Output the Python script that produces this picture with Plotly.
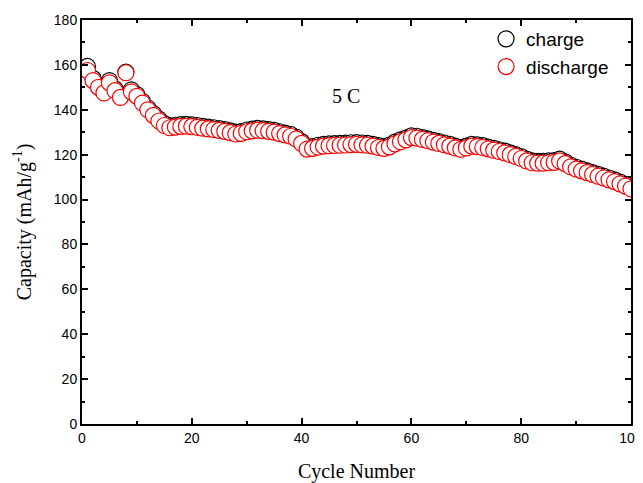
import plotly.graph_objects as go

cycles = list(range(1, 101))

discharge = [157.5, 153.0, 150.0, 147.5, 152.0, 148.5, 145.5, 156.5, 148.0, 146.0,
             143.0, 140.0, 137.5, 135.0, 133.0, 132.0, 132.3, 132.6, 132.7, 132.5,
             132.2, 131.8, 131.5, 131.2, 130.8, 130.4, 129.8, 129.2, 129.5, 130.2,
             130.6, 130.9, 130.7, 130.4, 130.0, 129.4, 128.8, 128.2, 127.0, 125.0,
             122.5, 122.8, 123.4, 123.8, 124.0, 124.1, 124.2, 124.3, 124.5, 124.6,
             124.4, 124.2, 123.8, 123.2, 122.8, 123.5, 124.8, 125.8, 126.6, 127.6,
             127.4, 126.8, 126.2, 125.6, 125.0, 124.4, 123.8, 123.0, 122.4, 123.0,
             123.8, 123.6, 123.2, 122.6, 122.0, 121.4, 120.8, 120.0, 119.2, 118.3,
             117.2, 116.4, 116.2, 116.2, 116.4, 116.6, 117.2, 116.0, 114.6, 113.6,
             112.8, 112.0, 111.2, 110.4, 109.6, 108.8, 108.0, 107.0, 106.0, 104.8]

charge = [159.3, 154.0, 150.8, 148.3, 153.0, 149.3, 146.3, 156.8, 148.9, 146.8,
          143.8, 140.8, 138.3, 135.8, 133.8, 132.8, 133.1, 133.4, 133.5, 133.3,
          133.0, 132.6, 132.3, 132.0, 131.6, 131.2, 130.6, 130.0, 130.3, 131.0,
          131.4, 131.7, 131.5, 131.2, 130.8, 130.2, 129.6, 129.0, 127.8, 125.8,
          123.3, 123.6, 124.2, 124.6, 124.8, 124.9, 125.0, 125.1, 125.3, 125.4,
          125.2, 125.0, 124.6, 124.0, 123.6, 124.3, 125.6, 126.6, 127.4, 128.4,
          128.2, 127.6, 127.0, 126.4, 125.8, 125.2, 124.6, 123.8, 123.2, 123.8,
          124.6, 124.4, 124.0, 123.4, 122.8, 122.2, 121.6, 120.8, 120.0, 119.1,
          118.0, 117.2, 117.0, 117.0, 117.2, 117.4, 118.0, 116.8, 115.4, 114.4,
          113.6, 112.8, 112.0, 111.2, 110.4, 109.6, 108.8, 107.8, 106.8, 105.6]

x_ticks = [0, 20, 40, 60, 80, 100]
y_ticks = [0, 20, 40, 60, 80, 100, 120, 140, 160, 180]

fig = go.Figure()
fig.add_trace(go.Scatter(
    x=cycles, y=charge, mode="markers", name="charge",
    marker=dict(symbol="circle-open", size=16, color="black", line=dict(width=1.2, color="black")),
))
fig.add_trace(go.Scatter(
    x=cycles, y=discharge, mode="markers", name="discharge",
    marker=dict(symbol="circle", size=16, color="white", line=dict(width=1.2, color="#ff0000")),
))

fig.add_annotation(x=48, y=146, text="5 C", showarrow=False,
                   font=dict(family="Liberation Serif", size=20, color="black"))

axis_common = dict(
    showline=True, linewidth=2, linecolor="black", mirror="allticks",
    ticks="inside", ticklen=6, tickwidth=1.5, tickcolor="black",
    showgrid=False, zeroline=False, automargin=False,
    tickfont=dict(family="Liberation Sans", size=14, color="black"),
)

fig.update_xaxes(
    range=[0, 100], tickvals=x_ticks,
    minor=dict(dtick=10, ticks="inside", ticklen=3, tickwidth=1.5, tickcolor="black"),
    title=dict(text="Cycle Number", font=dict(family="Liberation Serif", size=20, color="black"), standoff=19),
    **axis_common,
)
fig.update_yaxes(
    range=[0, 180], tickvals=y_ticks,
    minor=dict(dtick=10, ticks="inside", ticklen=3, tickwidth=1.5, tickcolor="black"),
    title=dict(text="Capacity (mAh/g<sup>-1</sup>)", font=dict(family="Liberation Serif", size=20, color="black"), standoff=17),
    **axis_common,
)

fig.update_layout(
    width=635, height=475,
    margin=dict(l=74, r=12, t=12, b=59),
    plot_bgcolor="white", paper_bgcolor="white",
    showlegend=True,
    legend=dict(x=0.736, y=1.0, xanchor="left", yanchor="top",
                bgcolor="rgba(0,0,0,0)", borderwidth=0,
                font=dict(family="Liberation Sans", size=19, color="black"),
                tracegroupgap=0, itemwidth=30),
)

fig.write_html("out.html")
